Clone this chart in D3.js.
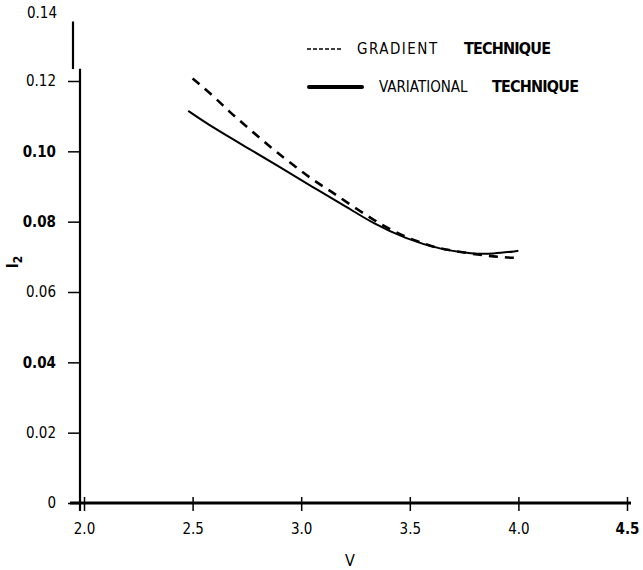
<!DOCTYPE html>
<html>
<head>
<meta charset="utf-8">
<script src="https://cdn.jsdelivr.net/npm/d3@7"></script>
<style>
  body { margin: 0; background: #fff; }
  text { font-family: "Liberation Sans Narrow", "DejaVu Sans Condensed", "Liberation Sans", sans-serif; fill: #000; }
</style>
</head>
<body>
<svg id="chart"></svg>
<script>
// values
var xTicks = [2.0, 2.5, 3.0, 3.5, 4.0, 4.5];
var yTicks = [0, 0.02, 0.04, 0.06, 0.08, 0.10, 0.12];
var topTicks = [0.14];
var boldTicks = ["0.10", "0.08", "0.04", "4.5"];

// gradient technique (dashed)
var gradV  = [2.50, 2.60, 2.67, 2.74, 2.82, 2.89, 2.97, 3.05, 3.14, 3.23, 3.33, 3.41, 3.49, 3.57, 3.65, 3.88, 4.00];
var gradI2 = [0.1207, 0.1155, 0.1112, 0.1075, 0.1032, 0.0996, 0.0958, 0.0920, 0.0885, 0.0847, 0.0806, 0.0778, 0.0754, 0.0736, 0.0721, 0.0700, 0.0697];

// variational technique (solid)
var varV  = [2.48, 2.60, 2.75, 2.90, 3.05, 3.21, 3.33, 3.48, 3.64, 3.79, 3.88, 4.00];
var varI2 = [0.1115, 0.1065, 0.1011, 0.0956, 0.0899, 0.0842, 0.0795, 0.0752, 0.0721, 0.0708, 0.0708, 0.0717];

var screen = {width:643, height:570};

var svg = d3.select("#chart")
    .attr("width", screen.width)
    .attr("height", screen.height);

var xScale = d3.scaleLinear()
    .domain([2.0, 4.5])
    .range([84, 627]);

var yScale = d3.scaleLinear()
    .domain([0, 0.12])
    .range([503, 81]);

var axisX = 80;

// x axis
var xAxis = d3.axisBottom(xScale)
    .tickValues(xTicks)
    .tickSize(8)
    .tickPadding(12)
    .tickFormat(d3.format(".1f"));

var gx = svg.append("g")
    .attr("transform", "translate(0," + yScale(0) + ")")
    .call(xAxis);
gx.select(".domain").remove();
gx.append("line")
    .attr("x1", 70).attr("x2", 631)
    .attr("y1", 0).attr("y2", 0)
    .attr("stroke", "#000").attr("stroke-width", 3);
gx.selectAll(".tick line")
    .attr("y1", -6)
    .attr("stroke-width", 1.5);
gx.selectAll(".tick text")
    .attr("font-size", 15)
    .attr("fill", "#000")
    .attr("font-weight", function(d){ return boldTicks.indexOf(d3.format(".1f")(d)) >= 0 ? "bold" : "normal"; });

// y axis
var yAxis = d3.axisLeft(yScale)
    .tickValues(yTicks)
    .tickSize(12)
    .tickPadding(8)
    .tickFormat(function(d){ return d === 0 ? "0" : d3.format(".2f")(d); });

var gy = svg.append("g")
    .attr("transform", "translate(" + axisX + ",0)")
    .call(yAxis);
gy.select(".domain").remove();
gy.append("line")
    .attr("x1", 0).attr("x2", 0)
    .attr("y1", yScale(0.1235)).attr("y2", yScale(0) + 8)
    .attr("stroke", "#000").attr("stroke-width", 2.2);
gy.selectAll(".tick line")
    .attr("x2", -12)
    .attr("stroke-width", 1.5);
gy.selectAll(".tick text")
    .attr("font-size", 15)
    .attr("fill", "#000")
    .attr("dx", -4)
    .attr("font-weight", function(d){ return boldTicks.indexOf(d3.format(".2f")(d)) >= 0 ? "bold" : "normal"; });

// upper piece of the axis is offset in the scan, with its 0.14 label
var topScale = d3.scaleLinear()
    .domain([0.12, 0.14])
    .range([yScale(0.12), yScale(0.12) - 68]);
var topAxis = d3.axisLeft(topScale)
    .tickValues(topTicks)
    .tickSize(0)
    .tickPadding(0)
    .tickFormat(d3.format(".2f"));
var gt = svg.append("g")
    .attr("transform", "translate(" + (axisX - 7) + ",0)")
    .call(topAxis);
gt.select(".domain").remove();
gt.append("line")
    .attr("x1", 0).attr("x2", 0)
    .attr("y1", topScale(0.1235)).attr("y2", topScale(0.1375))
    .attr("stroke", "#000").attr("stroke-width", 2.2);
gt.selectAll(".tick text")
    .attr("font-size", 15)
    .attr("fill", "#000")
    .attr("dx", -16);

// axis titles
svg.append("text")
    .attr("x", 350).attr("y", 566)
    .attr("text-anchor", "middle")
    .attr("font-size", 16)
    .text("V");

var yTitle = svg.append("text")
    .attr("transform", "translate(18,262) rotate(-90)")
    .attr("text-anchor", "middle")
    .attr("font-size", 16)
    .attr("font-weight", "bold");
yTitle.append("tspan").text("l");
yTitle.append("tspan").attr("dy", 4).attr("font-size", 12).text("2");

// curves
var gradData = gradV.map(function(v, i){ return {v:v, i2:gradI2[i]}; });
var varData = varV.map(function(v, i){ return {v:v, i2:varI2[i]}; });

var line = d3.line()
    .x(function(d){ return xScale(d.v); })
    .y(function(d){ return yScale(d.i2); })
    .curve(d3.curveBasis);

svg.append("path")
    .datum(gradData)
    .attr("d", line)
    .attr("fill", "none")
    .attr("stroke", "#000")
    .attr("stroke-width", 2.6)
    .attr("stroke-dasharray", "9,7");

svg.append("path")
    .datum(varData)
    .attr("d", line)
    .attr("fill", "none")
    .attr("stroke", "#000")
    .attr("stroke-width", 2);

// legend
var legend = svg.append("g");
legend.append("line")
    .attr("x1", 307).attr("x2", 342)
    .attr("y1", 49).attr("y2", 49)
    .attr("stroke", "#000").attr("stroke-width", 1.5)
    .attr("stroke-dasharray", "4,2");
legend.append("text")
    .attr("x", 357).attr("y", 54)
    .attr("font-size", 15)
    .attr("letter-spacing", 1.5)
    .text("GRADIENT");
legend.append("text")
    .attr("x", 464).attr("y", 54)
    .attr("font-size", 16)
    .attr("font-weight", "bold")
    .attr("letter-spacing", -0.8)
    .text("TECHNIQUE");

legend.append("line")
    .attr("x1", 309).attr("x2", 362)
    .attr("y1", 87).attr("y2", 87)
    .attr("stroke", "#000").attr("stroke-width", 4)
    .attr("stroke-linecap", "round");
legend.append("text")
    .attr("x", 379).attr("y", 92)
    .attr("font-size", 15)
    .text("VARIATIONAL");
legend.append("text")
    .attr("x", 492).attr("y", 92)
    .attr("font-size", 16)
    .attr("font-weight", "bold")
    .attr("letter-spacing", -0.8)
    .text("TECHNIQUE");
</script>
</body>
</html>
